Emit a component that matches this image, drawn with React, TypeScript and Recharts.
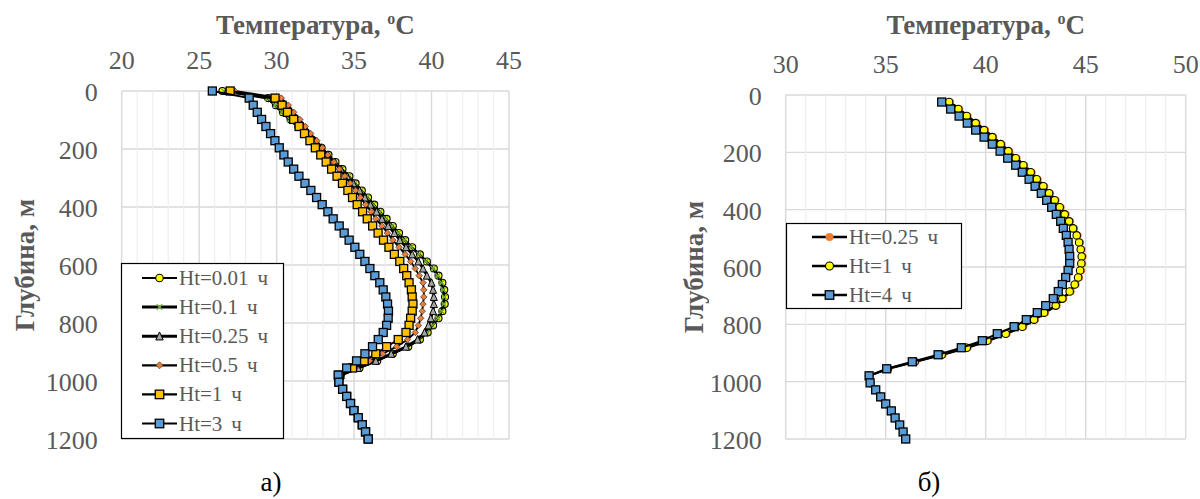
import React from 'react';
import { ScatterChart, Scatter, XAxis, YAxis, CartesianGrid, Label } from 'recharts';

// Depth of the computation nodes, m
const DEPTH_A = [
  0, 24.5, 49, 73.5, 98, 122.4, 146.9, 171.4, 195.9, 220.4, 244.9, 269.4, 293.9, 318.4, 342.9, 367.3,
  391.8, 416.3, 440.8, 465.3, 489.8, 514.3, 538.8, 563.3, 587.8, 612.2, 636.7, 661.2, 685.7, 710.2,
  734.7, 759.2, 783.7, 808.2, 832.7, 857.1, 881.6, 906.1, 930.6, 955.1, 979.6, 1004.1, 1028.6, 1053.1,
  1077.6, 1102, 1126.5, 1151, 1175.5, 1200,
];
const DEPTH_B = DEPTH_A.slice(1);

// Panel a) temperatures, °C
const HT001_A = [
  26.5, 29.45, 29.95, 30.4, 30.9, 31.4, 31.9, 32.4, 32.9, 33.35,
  33.8, 34.25, 34.7, 35.1, 35.5, 35.9, 36.3, 36.7, 37.1, 37.5,
  37.9, 38.3, 38.75, 39.25, 39.7, 40.15, 40.45, 40.7, 40.82, 40.87,
  40.85, 40.7, 40.45, 40.1, 39.75, 39.25, 38.5, 37.5, 36.5, 35.35,
  34.15, 34.02, 34.26, 34.52, 34.77, 34.99, 35.27, 35.53, 35.74, 35.91,
];
const HT01_A = [
  26.6, 29.4, 29.9, 30.35, 30.85, 31.35, 31.85, 32.35, 32.85, 33.3,
  33.75, 34.2, 34.65, 35.05, 35.45, 35.85, 36.25, 36.65, 37.05, 37.45,
  37.85, 38.25, 38.7, 39.2, 39.65, 40.1, 40.4, 40.65, 40.77, 40.82,
  40.8, 40.65, 40.4, 40.05, 39.7, 39.2, 38.45, 37.45, 36.45, 35.3,
  34.15, 34.02, 34.26, 34.52, 34.77, 34.99, 35.27, 35.53, 35.74, 35.91,
];
const HT025_A = [
  26.8, 29.8, 30.3, 30.7, 31.15, 31.6, 32.0, 32.45, 32.9, 33.3,
  33.75, 34.15, 34.55, 34.95, 35.35, 35.7, 36.05, 36.45, 36.8, 37.2,
  37.6, 37.95, 38.35, 38.75, 39.15, 39.45, 39.7, 40.0, 40.1, 40.15,
  40.15, 40.1, 39.95, 39.8, 39.55, 39.1, 38.35, 37.4, 36.4, 35.25,
  34.15, 34.02, 34.26, 34.52, 34.77, 34.99, 35.27, 35.53, 35.74, 35.91,
];
const HT05_A = [
  27.3, 30.3, 30.75, 31.1, 31.5, 31.85, 32.2, 32.6, 32.95, 33.3,
  33.7, 34.05, 34.4, 34.75, 35.1, 35.4, 35.75, 36.1, 36.4, 36.8,
  37.15, 37.5, 37.9, 38.3, 38.65, 38.95, 39.2, 39.45, 39.5, 39.5,
  39.45, 39.4, 39.3, 39.15, 38.95, 38.45, 37.75, 36.85, 36.0, 35.05,
  34.1, 34.02, 34.26, 34.52, 34.77, 34.99, 35.27, 35.53, 35.74, 35.91,
];
const HT1_A = [
  27.0, 29.9, 30.35, 30.7, 31.1, 31.45, 31.8, 32.15, 32.5, 32.85,
  33.2, 33.55, 33.9, 34.25, 34.6, 34.9, 35.2, 35.55, 35.85, 36.2,
  36.55, 36.9, 37.25, 37.6, 37.95, 38.2, 38.4, 38.55, 38.7, 38.75,
  38.8, 38.75, 38.65, 38.55, 38.35, 37.85, 37.1, 36.4, 35.65, 34.9,
  34.05, 34.02, 34.26, 34.52, 34.77, 34.99, 35.27, 35.53, 35.74, 35.91,
];
const HT3_A = [
  25.85, 28.23, 28.49, 28.75, 29.03, 29.31, 29.61, 29.89, 30.17, 30.47,
  30.75, 31.1, 31.44, 31.83, 32.21, 32.58, 32.94, 33.31, 33.65, 34.04,
  34.36, 34.68, 35.05, 35.37, 35.7, 36.02, 36.34, 36.66, 36.88, 37.05,
  37.16, 37.22, 37.2, 37.1, 36.88, 36.56, 36.19, 35.7, 35.16, 34.52,
  33.97, 34.02, 34.26, 34.52, 34.77, 34.99, 35.27, 35.53, 35.74, 35.91,
];

// Panel б) temperatures, °C
const HT025_B = [
  38.23, 38.69, 39.11, 39.56, 39.98, 40.39, 40.81, 41.19, 41.56, 41.94,
  42.31, 42.61, 42.94, 43.23, 43.51, 43.76, 44.01, 44.23, 44.43, 44.61,
  44.73, 44.81, 44.86, 44.84, 44.78, 44.68, 44.51, 44.26, 43.89, 43.56,
  42.98, 42.48, 41.89, 41.06, 40.14, 39.11, 37.86, 36.5, 35.15, 34.17,
  34.22, 34.5, 34.75, 35.0, 35.28, 35.47, 35.7, 35.87, 36.0,
];
const HT1_B = [
  38.17, 38.63, 39.05, 39.5, 39.92, 40.33, 40.75, 41.13, 41.5, 41.88,
  42.25, 42.55, 42.88, 43.17, 43.45, 43.7, 43.95, 44.17, 44.37, 44.55,
  44.67, 44.75, 44.8, 44.78, 44.72, 44.62, 44.45, 44.2, 43.83, 43.5,
  42.92, 42.42, 41.83, 41.0, 40.08, 39.05, 37.8, 36.45, 35.1, 34.17,
  34.22, 34.5, 34.75, 35.0, 35.28, 35.47, 35.7, 35.87, 36.0,
];
const HT4_B = [
  37.8, 38.25, 38.67, 39.08, 39.5, 39.92, 40.33, 40.72, 41.1, 41.5,
  41.83, 42.17, 42.47, 42.78, 43.05, 43.3, 43.53, 43.75, 43.88, 44.03,
  44.12, 44.17, 44.2, 44.2, 44.12, 44.0, 43.83, 43.63, 43.38, 43.0,
  42.58, 42.03, 41.42, 40.58, 39.83, 38.78, 37.62, 36.33, 35.05, 34.17,
  34.22, 34.5, 34.75, 35.0, 35.28, 35.47, 35.7, 35.87, 36.0,
];

// Axes
const TEMP_MINOR_A = Array.from({ length: 26 }, (_, i) => 20 + i);
const TEMP_LABELS_A = [20, 25, 30, 35, 40, 45];
const TEMP_MINOR_B = Array.from({ length: 21 }, (_, i) => 30 + i);
const TEMP_LABELS_B = [30, 35, 40, 45, 50];
const DEPTH_TICKS = [0, 200, 400, 600, 800, 1000, 1200];

const TEMP_TITLE = 'Температура, ';
const DEPTH_TITLE = 'Глубина, м';

const SERIF = '"Liberation Serif", "DejaVu Serif", serif';
const serifStyle = { fontFamily: SERIF };
const TEXT_GRAY = '#595959';
const GRID_MAJOR = '#d9d9d9';
const GRID_MINOR = '#efefef';

type MarkerKind = 'circle' | 'x' | 'triangle' | 'diamond' | 'square';

interface SeriesDef {
  name: string;
  values: number[];
  marker: MarkerKind;
  fill: string;
  stroke: string;
  size: number;
  lineWidth: number;
}

const SERIES_A: SeriesDef[] = [
  { name: 'Ht=0.01', values: HT001_A, marker: 'circle', fill: '#FFFF00', stroke: '#000', size: 7, lineWidth: 1.8 },
  { name: 'Ht=0.1', values: HT01_A, marker: 'x', fill: '#70AD47', stroke: '#70AD47', size: 5, lineWidth: 2.6 },
  { name: 'Ht=0.25', values: HT025_A, marker: 'triangle', fill: '#A5A5A5', stroke: '#000', size: 7, lineWidth: 2.6 },
  { name: 'Ht=0.5', values: HT05_A, marker: 'diamond', fill: '#ED7D31', stroke: '#333', size: 6.5, lineWidth: 1.8 },
  { name: 'Ht=1', values: HT1_A, marker: 'square', fill: '#FFC000', stroke: '#000', size: 8, lineWidth: 1.8 },
  { name: 'Ht=3', values: HT3_A, marker: 'square', fill: '#5B9BD5', stroke: '#000', size: 8, lineWidth: 1.8 },
];

const SERIES_B: SeriesDef[] = [
  { name: 'Ht=0.25', values: HT025_B, marker: 'circle', fill: '#ED7D31', stroke: 'none', size: 7.5, lineWidth: 2 },
  { name: 'Ht=1', values: HT1_B, marker: 'circle', fill: '#FFFF00', stroke: '#000', size: 7.5, lineWidth: 2 },
  { name: 'Ht=4', values: HT4_B, marker: 'square', fill: '#5B9BD5', stroke: '#000', size: 8, lineWidth: 2 },
];

function Marker({ kind, cx, cy, fill, stroke, size }: { kind: MarkerKind; cx: number; cy: number; fill: string; stroke: string; size: number }) {
  const h = size / 2;
  switch (kind) {
    case 'circle':
      return <circle cx={cx} cy={cy} r={h} fill={fill} stroke={stroke} strokeWidth={1.1} />;
    case 'square':
      return <rect x={cx - h} y={cy - h} width={size} height={size} fill={fill} stroke={stroke} strokeWidth={1.3} />;
    case 'triangle':
      return (
        <polygon
          points={`${cx},${cy - h - 0.5} ${cx + h},${cy + h} ${cx - h},${cy + h}`}
          fill={fill}
          stroke={stroke}
          strokeWidth={1}
        />
      );
    case 'diamond':
      return (
        <polygon
          points={`${cx},${cy - h} ${cx + h},${cy} ${cx},${cy + h} ${cx - h},${cy}`}
          fill={fill}
          stroke={stroke}
          strokeWidth={0.7}
        />
      );
    case 'x':
      return (
        <g stroke={fill} strokeWidth={1.4}>
          <line x1={cx - h} y1={cy - h} x2={cx + h} y2={cy + h} />
          <line x1={cx - h} y1={cy + h} x2={cx + h} y2={cy - h} />
        </g>
      );
    default:
      return null;
  }
}

function makeXTick(labels: number[]) {
  return (props: any) => {
    const { x, y, payload } = props;
    if (!labels.includes(payload.value)) return <g />;
    return (
      <text x={x} y={y - 22.5} textAnchor="middle" style={serifStyle} fontSize={26} fill={TEXT_GRAY}>
        {payload.value}
      </text>
    );
  };
}

const YTick = (props: any) => {
  const { x, y, payload } = props;
  return (
    <text x={x - 24} y={y + 10} textAnchor="end" style={serifStyle} fontSize={26} fill={TEXT_GRAY}>
      {payload.value}
    </text>
  );
};

function makeGrid(tMin: number, tMax: number) {
  const vertical = (p: any) => {
    const v = tMin + ((p.x1 - p.x) / p.width) * (tMax - tMin);
    const major = Math.abs(v / 5 - Math.round(v / 5)) < 0.04;
    return (
      <line
        key={`v-${p.index}`}
        x1={p.x1}
        y1={p.y1}
        x2={p.x2}
        y2={p.y2}
        stroke={major ? GRID_MAJOR : GRID_MINOR}
        strokeWidth={major ? 1.4 : 1.2}
      />
    );
  };
  const horizontal = (p: any) => (
    <line key={`h-${p.index}`} x1={p.x1} y1={p.y1} x2={p.x2} y2={p.y2} stroke={GRID_MAJOR} strokeWidth={1.4} />
  );
  return <CartesianGrid vertical={vertical} horizontal={horizontal} />;
}

const TempTitle = (props: any) => {
  const vb = props.viewBox;
  return (
    <text
      x={vb.x + vb.width / 2}
      y={33.5}
      textAnchor="middle"
      style={serifStyle}
      fontWeight="bold"
      fontSize={27}
      fill={TEXT_GRAY}
    >
      {TEMP_TITLE}
      <tspan fontSize={16} dy={-10}>o</tspan>
      <tspan dy={10}>C</tspan>
    </text>
  );
};

function makeDepthTitle(cx: number) {
  return (props: any) => {
    const vb = props.viewBox;
    const cy = vb.y + vb.height / 2;
    return (
      <text
        x={cx}
        y={cy}
        transform={`rotate(-90 ${cx} ${cy})`}
        textAnchor="middle"
        dominantBaseline="central"
        style={serifStyle}
        fontWeight="bold"
        fontSize={27}
        fill={TEXT_GRAY}
      >
        {DEPTH_TITLE}
      </text>
    );
  };
}

function LegendBox({
  series,
  left,
  top,
  width,
  height,
  firstRow,
  rowStep,
  lineX0,
  lineX1,
}: {
  series: SeriesDef[];
  left: number;
  top: number;
  width: number;
  height: number;
  firstRow: number;
  rowStep: number;
  lineX0: number;
  lineX1: number;
}) {
  return (
    <svg
      width={width}
      height={height}
      style={{ position: 'absolute', left, top, overflow: 'visible' }}
    >
      <rect x={0.5} y={0.5} width={width - 1} height={height - 1} fill="#fff" stroke="#000" strokeWidth={1.2} />
      {series.map((s, i) => {
        const cy = firstRow + i * rowStep;
        const cx = (lineX0 + lineX1) / 2;
        return (
          <g key={s.name}>
            <line x1={lineX0} y1={cy} x2={lineX1} y2={cy} stroke="#000" strokeWidth={s.lineWidth + 0.4} />
            <Marker kind={s.marker} cx={cx} cy={cy} fill={s.fill} stroke={s.stroke} size={s.size + 0.5} />
            <text x={lineX1 + 2} y={cy + 7} style={serifStyle} fontSize={21} fill={TEXT_GRAY}>
              {s.name}
              <tspan dx={9}>ч</tspan>
            </text>
          </g>
        );
      })}
    </svg>
  );
}

function Panel({
  series,
  depths,
  tMin,
  tMax,
  minorTicks,
  labels,
  margin,
  axisHeight,
  axisWidth,
  depthTitleX,
}: {
  series: SeriesDef[];
  depths: number[];
  tMin: number;
  tMax: number;
  minorTicks: number[];
  labels: number[];
  margin: { top: number; right: number; bottom: number; left: number };
  axisHeight: number;
  axisWidth: number;
  depthTitleX: number;
}) {
  return (
    <ScatterChart width={600} height={499} margin={margin} style={serifStyle}>
      {makeGrid(tMin, tMax)}
      <XAxis
        type="number"
        dataKey="t"
        orientation="top"
        domain={[tMin, tMax]}
        ticks={minorTicks}
        interval={0}
        axisLine={false}
        tickLine={false}
        tickSize={0}
        tickMargin={0}
        height={axisHeight}
        tick={makeXTick(labels)}
      >
        <Label content={TempTitle} />
      </XAxis>
      <YAxis
        type="number"
        dataKey="d"
        domain={[0, 1200]}
        reversed
        ticks={DEPTH_TICKS}
        interval={0}
        axisLine={false}
        tickLine={false}
        tickSize={0}
        tickMargin={0}
        width={axisWidth}
        tick={YTick}
      >
        <Label content={makeDepthTitle(depthTitleX)} />
      </YAxis>
      {series.map((s) => (
        <Scatter
          key={s.name}
          name={s.name}
          data={depths.map((d, i) => ({ t: s.values[i], d }))}
          line={{ stroke: '#000', strokeWidth: s.lineWidth }}
          lineType="joint"
          isAnimationActive={false}
          shape={(p: any) => (
            <Marker kind={s.marker} cx={p.cx} cy={p.cy} fill={s.fill} stroke={s.stroke} size={s.size} />
          )}
        />
      ))}
    </ScatterChart>
  );
}

export default function App() {
  return (
    <div
      style={{
        position: 'absolute',
        left: 0,
        top: 0,
        width: 1200,
        height: 499,
        background: '#fff',
        overflow: 'hidden',
        fontFamily: SERIF,
      }}
    >
      <div style={{ position: 'absolute', left: 0, top: 0 }}>
        <Panel
          series={SERIES_A}
          depths={DEPTH_A}
          tMin={20}
          tMax={45}
          minorTicks={TEMP_MINOR_A}
          labels={TEMP_LABELS_A}
          margin={{ top: 0, right: 91, bottom: 60, left: 0 }}
          axisHeight={91}
          axisWidth={121.7}
          depthTitleX={25}
        />
      </div>
      <div style={{ position: 'absolute', left: 600, top: 0 }}>
        <Panel
          series={SERIES_B}
          depths={DEPTH_B}
          tMin={30}
          tMax={50}
          minorTicks={TEMP_MINOR_B}
          labels={TEMP_LABELS_B}
          margin={{ top: 0, right: 14.3, bottom: 60, left: 0 }}
          axisHeight={95}
          axisWidth={185.7}
          depthTitleX={94}
        />
      </div>
      <LegendBox
        series={SERIES_A}
        left={121}
        top={263}
        width={163}
        height={176}
        firstRow={15}
        rowStep={29.1}
        lineX0={21}
        lineX1={56}
      />
      <LegendBox
        series={SERIES_B}
        left={786}
        top={223}
        width={176}
        height={86}
        firstRow={14}
        rowStep={29}
        lineX0={26}
        lineX1={61}
      />
      <svg width={1200} height={499} style={{ position: 'absolute', left: 0, top: 0, pointerEvents: 'none' }}>
        <text x={271} y={491} textAnchor="middle" style={serifStyle} fontSize={27} fill="#000">
          а)
        </text>
        <text x={929} y={491} textAnchor="middle" style={serifStyle} fontSize={27} fill="#000">
          б)
        </text>
      </svg>
    </div>
  );
}
